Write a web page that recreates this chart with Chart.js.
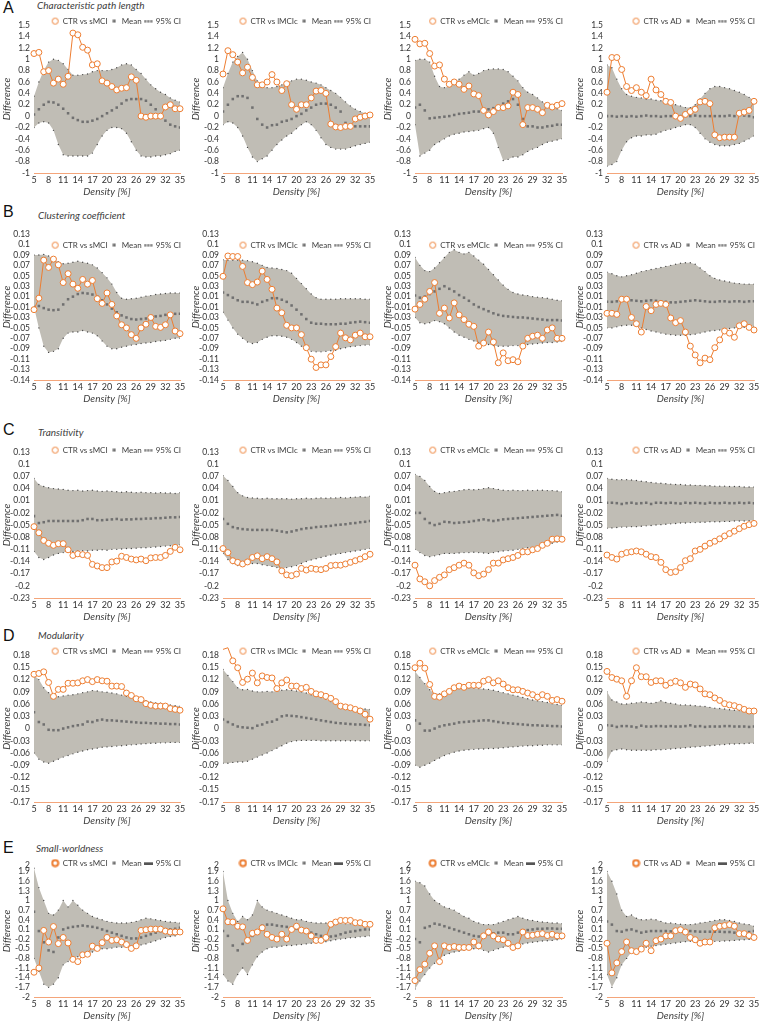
<!DOCTYPE html>
<html>
<head>
<meta charset="utf-8">
<script src="https://cdn.jsdelivr.net/npm/chart.js@4.4.1/dist/chart.umd.min.js"></script>
<style>
  body { margin: 0; background: #fff; }
  #page { position: relative; width: 760px; height: 1023px; overflow: hidden; background: #fff; }
  #page canvas { position: absolute; }
  .letter { position: absolute; font: 16px "Liberation Sans", Arial, sans-serif; line-height: 16px; color: #111; }
  .title { position: absolute; font: italic 10px Lato, sans-serif; line-height: 12px; color: #404040; white-space: nowrap; }
</style>
</head>
<body>
<div id="page"></div>
<script>
// density axis
const density = [5, 6, 7, 8, 9, 10, 11, 12, 13, 14, 15, 16, 17, 18, 19, 20, 21, 22, 23, 24, 25, 26, 27, 28, 29, 30, 31, 32, 33, 34, 35];
const densityTicks = [5, 8, 11, 14, 17, 20, 23, 26, 29, 32, 35];

// y ticks per row (values and the printed labels)
const cplTickValues = [-1, -0.8, -0.6, -0.4, -0.2, 0, 0.2, 0.4, 0.6, 0.8, 1, 1.2, 1.4, 1.6];
const cplTickLabels = ["-1", "-0.8", "-0.6", "-0.4", "-0.2", "0", "0.2", "0.4", "0.6", "0.8", "1", "1.2", "1.4", "1.5"];
const cluTickValues = [-0.15, -0.13, -0.11, -0.09, -0.07, -0.05, -0.03, -0.01, 0.01, 0.03, 0.05, 0.07, 0.09, 0.11, 0.13];
const cluTickLabels = ["-0.14", "-0.13", "-0.11", "-0.09", "-0.07", "-0.05", "-0.03", "-0.01", "0.01", "0.03", "0.05", "0.07", "0.09", "0.1", "0.13"];
const traTickValues = [-0.23, -0.2, -0.17, -0.14, -0.11, -0.08, -0.05, -0.02, 0.01, 0.04, 0.07, 0.1, 0.13];
const traTickLabels = ["-0.23", "-0.2", "-0.17", "-0.14", "-0.11", "-0.08", "-0.05", "-0.02", "0.01", "0.04", "0.07", "0.1", "0.13"];
const modTickValues = [-0.18, -0.15, -0.12, -0.09, -0.06, -0.03, 0, 0.03, 0.06, 0.09, 0.12, 0.15, 0.18];
const modTickLabels = ["-0.17", "-0.15", "-0.12", "-0.09", "-0.06", "-0.03", "0", "0.03", "0.06", "0.09", "0.12", "0.15", "0.18"];
const swTickValues = [-2, -1.7, -1.4, -1.1, -0.8, -0.5, -0.2, 0.1, 0.4, 0.7, 1, 1.3, 1.6, 1.9, 2.1];
const swTickLabels = ["-2", "-1.7", "-1.4", "-1.1", "-0.8", "-0.5", "-0.2", "0.1", "0.4", "0.7", "1", "1.3", "1.6", "1.9", "2"];

const groups = ["CTR vs sMCI", "CTR vs lMCIc", "CTR vs eMCIc", "CTR vs AD"];
const rowLetters = ["A", "B", "C", "D", "E"];
const rowTitles = ["Characteristic path length", "Clustering coefficient", "Transitivity", "Modularity", "Small-worldness"];

// A - characteristic path length
const cplSmciDiff = [1.1, 1.12, 0.78, 0.8, 0.58, 0.65, 0.56, 0.7, 1.46, 1.43, 1.21, 1.16, 0.9, 0.92, 0.62, 0.58, 0.52, 0.46, 0.49, 0.5, 0.69, 0.63, 0, -0.02, 0, 0, 0, 0.16, 0.2, 0.13, 0.13];
const cplSmciMean = [0.03, 0.12, 0.2, 0.25, 0.24, 0.2, 0.13, 0.05, -0.03, -0.07, -0.1, -0.1, -0.08, -0.05, 0, 0.05, 0.1, 0.15, 0.22, 0.28, 0.3, 0.3, 0.3, 0.27, 0.2, 0.12, 0.03, -0.08, -0.15, -0.18, -0.2];
const cplSmciHi = [0.35, 0.6, 0.8, 0.95, 1, 0.98, 0.92, 0.82, 0.72, 0.72, 0.73, 0.74, 0.78, 0.8, 0.8, 0.8, 0.82, 0.85, 0.9, 0.92, 0.9, 0.82, 0.75, 0.65, 0.55, 0.48, 0.42, 0.38, 0.32, 0.28, 0.25];
const cplSmciLo = [-0.2, -0.12, -0.1, -0.12, -0.25, -0.5, -0.68, -0.7, -0.7, -0.7, -0.7, -0.7, -0.65, -0.5, -0.35, -0.25, -0.2, -0.2, -0.22, -0.3, -0.45, -0.6, -0.7, -0.72, -0.72, -0.7, -0.7, -0.68, -0.66, -0.62, -0.6];

const cplLmcicDiff = [0.74, 1.15, 1.08, 0.95, 0.76, 0.86, 0.68, 0.55, 0.55, 0.6, 0.73, 0.6, 0.45, 0.57, 0.2, 0.12, 0.2, 0.2, 0.32, 0.44, 0.45, 0.4, -0.14, -0.19, -0.2, -0.18, -0.18, -0.05, -0.02, 0, 0.02];
const cplLmcicMean = [0.08, 0.2, 0.3, 0.35, 0.35, 0.32, 0.15, -0.05, -0.15, -0.2, -0.16, -0.15, -0.1, -0.08, -0.05, 0, 0.04, 0.1, 0.15, 0.2, 0.22, 0.22, 0.2, 0.15, 0.08, -0.12, -0.15, -0.18, -0.18, -0.18, -0.18];
const cplLmcicHi = [0.5, 0.75, 0.95, 1.05, 1.12, 1, 0.8, 0.62, 0.52, 0.5, 0.5, 0.52, 0.55, 0.6, 0.62, 0.65, 0.65, 0.63, 0.6, 0.58, 0.55, 0.5, 0.45, 0.4, 0.33, 0.25, 0.18, 0.12, 0.08, 0.05, 0.03];
const cplLmcicLo = [-0.15, -0.1, -0.12, -0.2, -0.35, -0.55, -0.72, -0.8, -0.75, -0.7, -0.6, -0.5, -0.42, -0.35, -0.3, -0.22, -0.15, -0.1, -0.15, -0.25, -0.38, -0.5, -0.55, -0.58, -0.58, -0.58, -0.55, -0.52, -0.5, -0.48, -0.46];

const cplEmcicDiff = [1.35, 1.27, 1.28, 1.1, 0.88, 0.9, 0.65, 0.56, 0.6, 0.56, 0.47, 0.53, 0.39, 0.36, 0.1, 0.02, 0.08, 0.15, 0.15, 0.18, 0.42, 0.38, -0.15, 0.15, 0.15, 0.12, 0.06, 0.19, 0.16, 0.19, 0.22];
const cplEmcicMean = [0.15, 0.2, 0.1, -0.04, -0.03, -0.02, -0.01, 0, 0.02, 0.04, 0.05, 0.06, 0.08, 0.08, 0.1, 0.12, 0.14, 0.18, 0.22, 0.26, 0.3, 0.2, -0.05, -0.18, -0.18, -0.2, -0.2, -0.18, -0.17, -0.15, -0.15];
const cplEmcicHi = [0.98, 1, 1, 0.95, 0.7, 0.52, 0.5, 0.52, 0.58, 0.65, 0.72, 0.78, 0.72, 0.75, 0.8, 0.82, 0.83, 0.83, 0.82, 0.78, 0.7, 0.62, 0.5, 0.42, 0.38, 0.32, 0.25, 0.2, 0.16, 0.13, 0.1];
const cplEmcicLo = [-0.15, -0.7, -0.65, -0.6, -0.5, -0.45, -0.4, -0.35, -0.32, -0.3, -0.28, -0.27, -0.26, -0.25, -0.22, -0.2, -0.3, -0.55, -0.78, -0.76, -0.72, -0.72, -0.68, -0.62, -0.58, -0.55, -0.5, -0.46, -0.44, -0.42, -0.4];

const cplAdDiff = [0.42, 1.03, 1.03, 0.82, 0.52, 0.45, 0.5, 0.42, 0.36, 0.65, 0.46, 0.38, 0.26, 0.24, 0, -0.04, 0.03, 0.08, 0.12, 0.25, 0.26, 0.22, -0.33, -0.38, -0.37, -0.37, -0.37, 0.05, 0.07, 0.1, 0.26];
const cplAdMean = [0, 0, -0.01, 0, -0.01, 0, -0.01, 0, 0.01, 0, 0, -0.01, 0, 0, -0.01, 0, 0, 0, 0.01, 0, 0, 0, 0, 0, 0, 0.01, 0, 0.02, 0.01, 0, -0.02];
const cplAdHi = [0.9, 0.85, 0.65, 0.48, 0.38, 0.35, 0.33, 0.32, 0.3, 0.3, 0.28, 0.27, 0.25, 0.22, 0.2, 0.18, 0.15, 0.15, 0.2, 0.3, 0.4, 0.48, 0.52, 0.52, 0.5, 0.48, 0.45, 0.42, 0.38, 0.33, 0.28];
const cplAdLo = [-0.88, -0.85, -0.8, -0.6, -0.45, -0.38, -0.35, -0.35, -0.33, -0.33, -0.32, -0.28, -0.25, -0.23, -0.2, -0.18, -0.15, -0.15, -0.2, -0.3, -0.4, -0.46, -0.5, -0.52, -0.52, -0.52, -0.5, -0.48, -0.44, -0.4, -0.35];

// B - clustering coefficient
const cluSmciDiff = [-0.015, 0.007, 0.08, 0.066, 0.082, 0.071, 0.037, 0.054, 0.034, 0.026, 0.043, 0.034, 0.041, 0.006, -0.003, 0.017, -0.005, -0.027, -0.044, -0.05, -0.063, -0.07, -0.05, -0.043, -0.03, -0.047, -0.049, -0.044, -0.025, -0.056, -0.061];
const cluSmciMean = [-0.01, -0.008, -0.012, -0.015, -0.016, -0.015, -0.005, 0.005, 0.01, 0.015, 0.017, 0.016, 0.014, 0.01, 0.003, -0.005, -0.013, -0.02, -0.026, -0.03, -0.033, -0.034, -0.033, -0.032, -0.03, -0.028, -0.027, -0.025, -0.024, -0.023, -0.023];
const cluSmciHi = [0.09, 0.09, 0.091, 0.088, 0.082, 0.077, 0.073, 0.074, 0.076, 0.078, 0.076, 0.074, 0.071, 0.065, 0.056, 0.046, 0.034, 0.018, 0.007, 0.005, 0.006, 0.007, 0.009, 0.011, 0.012, 0.014, 0.015, 0.016, 0.017, 0.017, 0.017];
const cluSmciLo = [-0.01, -0.05, -0.085, -0.097, -0.095, -0.09, -0.07, -0.06, -0.058, -0.058, -0.055, -0.058, -0.06, -0.065, -0.075, -0.085, -0.09, -0.09, -0.087, -0.085, -0.083, -0.082, -0.08, -0.079, -0.078, -0.076, -0.075, -0.074, -0.072, -0.07, -0.07];

const cluLmcicDiff = [0.049, 0.088, 0.087, 0.087, 0.068, 0.037, 0.033, 0.038, 0.059, 0.043, 0.024, -0.012, -0.021, -0.045, -0.05, -0.05, -0.063, -0.088, -0.11, -0.126, -0.121, -0.121, -0.105, -0.086, -0.06, -0.069, -0.073, -0.064, -0.06, -0.067, -0.067];
const cluLmcicMean = [0.018, 0.013, 0.008, 0.003, 0, 0, -0.002, -0.005, 0, 0.003, 0.007, 0.007, 0.004, 0, -0.007, -0.015, -0.024, -0.033, -0.04, -0.042, -0.042, -0.043, -0.043, -0.043, -0.042, -0.042, -0.04, -0.039, -0.038, -0.039, -0.04];
const cluLmcicHi = [0.081, 0.08, 0.08, 0.08, 0.08, 0.079, 0.077, 0.074, 0.07, 0.066, 0.065, 0.064, 0.062, 0.06, 0.055, 0.045, 0.035, 0.025, 0.015, 0.008, 0.005, 0.005, 0.005, 0.005, 0.006, 0.006, 0.006, 0.006, 0.006, 0.005, 0.005];
const cluLmcicLo = [-0.02, -0.035, -0.05, -0.062, -0.07, -0.077, -0.08, -0.078, -0.072, -0.068, -0.065, -0.065, -0.066, -0.068, -0.072, -0.078, -0.085, -0.09, -0.095, -0.096, -0.096, -0.095, -0.094, -0.093, -0.09, -0.088, -0.086, -0.085, -0.084, -0.083, -0.083];

const cluEmcicDiff = [-0.014, -0.005, 0.005, 0.02, 0.037, -0.022, -0.012, -0.031, -0.002, -0.025, -0.034, -0.043, -0.047, -0.085, -0.079, -0.058, -0.077, -0.117, -0.098, -0.113, -0.111, -0.115, -0.085, -0.07, -0.066, -0.064, -0.07, -0.054, -0.05, -0.07, -0.07];
const cluEmcicMean = [0.012, 0.008, 0.01, 0.015, 0.02, 0.025, 0.03, 0.025, 0.02, 0.013, 0.008, 0.002, -0.005, -0.01, -0.014, -0.018, -0.022, -0.025, -0.027, -0.028, -0.029, -0.03, -0.03, -0.031, -0.032, -0.033, -0.034, -0.035, -0.035, -0.035, -0.036];
const cluEmcicHi = [0.085, 0.07, 0.06, 0.058, 0.065, 0.075, 0.085, 0.095, 0.1, 0.095, 0.092, 0.095, 0.088, 0.08, 0.072, 0.062, 0.052, 0.042, 0.032, 0.024, 0.018, 0.015, 0.013, 0.012, 0.01, 0.009, 0.008, 0.007, 0.005, 0.003, 0.002];
const cluEmcicLo = [-0.03, -0.04, -0.042, -0.04, -0.036, -0.038, -0.042, -0.05, -0.058, -0.064, -0.068, -0.072, -0.075, -0.078, -0.08, -0.082, -0.084, -0.085, -0.085, -0.085, -0.084, -0.084, -0.083, -0.082, -0.081, -0.08, -0.079, -0.078, -0.078, -0.077, -0.076];

const cluAdDiff = [-0.022, -0.022, -0.024, 0.005, 0.005, -0.03, -0.042, -0.058, -0.009, -0.017, -0.005, -0.003, -0.005, -0.031, -0.04, -0.036, -0.058, -0.085, -0.102, -0.117, -0.108, -0.111, -0.088, -0.073, -0.056, -0.06, -0.068, -0.046, -0.042, -0.049, -0.054];
const cluAdMean = [0, 0, 0.001, 0.002, 0.003, 0.003, 0.002, 0.001, 0.002, 0.003, 0.002, 0.001, 0, -0.001, -0.001, 0, 0.001, 0.002, 0.003, 0.002, 0.001, 0, 0, 0.001, 0.001, 0, 0.001, 0.001, 0, 0.001, 0.001];
const cluAdHi = [0.057, 0.054, 0.05, 0.048, 0.05, 0.052, 0.055, 0.058, 0.06, 0.062, 0.064, 0.066, 0.068, 0.07, 0.072, 0.074, 0.075, 0.075, 0.072, 0.065, 0.058, 0.05, 0.045, 0.042, 0.04, 0.038, 0.036, 0.035, 0.034, 0.034, 0.034];
const cluAdLo = [-0.05, -0.05, -0.048, -0.046, -0.045, -0.045, -0.047, -0.05, -0.053, -0.056, -0.058, -0.06, -0.062, -0.063, -0.064, -0.064, -0.064, -0.063, -0.062, -0.06, -0.058, -0.056, -0.055, -0.054, -0.052, -0.051, -0.05, -0.05, -0.049, -0.048, -0.047];

// C - transitivity
const traSmciDiff = [-0.054, -0.069, -0.088, -0.095, -0.1, -0.096, -0.096, -0.111, -0.125, -0.121, -0.123, -0.125, -0.147, -0.151, -0.155, -0.155, -0.141, -0.139, -0.127, -0.13, -0.134, -0.136, -0.134, -0.138, -0.131, -0.13, -0.13, -0.125, -0.115, -0.105, -0.111];
const traSmciMean = [-0.028, -0.045, -0.043, -0.04, -0.04, -0.04, -0.04, -0.04, -0.04, -0.04, -0.038, -0.035, -0.035, -0.038, -0.038, -0.037, -0.036, -0.035, -0.037, -0.036, -0.036, -0.035, -0.035, -0.034, -0.034, -0.033, -0.033, -0.032, -0.031, -0.031, -0.03];
const traSmciHi = [0.065, 0.05, 0.045, 0.042, 0.04, 0.039, 0.038, 0.036, 0.035, 0.036, 0.034, 0.035, 0.036, 0.034, 0.033, 0.034, 0.033, 0.032, 0.031, 0.032, 0.031, 0.03, 0.031, 0.03, 0.03, 0.029, 0.03, 0.029, 0.029, 0.028, 0.03];
const traSmciLo = [-0.115, -0.13, -0.135, -0.13, -0.124, -0.12, -0.118, -0.116, -0.115, -0.114, -0.113, -0.114, -0.112, -0.112, -0.111, -0.112, -0.11, -0.11, -0.109, -0.108, -0.108, -0.107, -0.106, -0.106, -0.105, -0.104, -0.103, -0.102, -0.101, -0.1, -0.099];

const traLmcicDiff = [-0.108, -0.118, -0.138, -0.142, -0.146, -0.141, -0.13, -0.126, -0.133, -0.128, -0.133, -0.141, -0.163, -0.173, -0.175, -0.171, -0.157, -0.161, -0.157, -0.159, -0.16, -0.157, -0.15, -0.149, -0.149, -0.146, -0.142, -0.138, -0.134, -0.128, -0.122];
const traLmcicMean = [-0.035, -0.047, -0.055, -0.058, -0.06, -0.061, -0.062, -0.062, -0.062, -0.062, -0.062, -0.064, -0.066, -0.068, -0.066, -0.063, -0.06, -0.058, -0.057, -0.055, -0.054, -0.053, -0.052, -0.05, -0.049, -0.048, -0.046, -0.045, -0.043, -0.042, -0.04];
const traLmcicHi = [0.072, 0.06, 0.045, 0.03, 0.022, 0.018, 0.017, 0.016, 0.015, 0.016, 0.015, 0.015, 0.015, 0.015, 0.014, 0.015, 0.015, 0.016, 0.015, 0.016, 0.017, 0.016, 0.017, 0.017, 0.018, 0.017, 0.018, 0.019, 0.02, 0.019, 0.021];
const traLmcicLo = [-0.12, -0.135, -0.145, -0.15, -0.15, -0.147, -0.145, -0.145, -0.148, -0.15, -0.152, -0.155, -0.157, -0.155, -0.153, -0.15, -0.145, -0.14, -0.136, -0.133, -0.13, -0.127, -0.124, -0.122, -0.12, -0.118, -0.116, -0.114, -0.112, -0.11, -0.108];

const traEmcicDiff = [-0.149, -0.183, -0.19, -0.2, -0.187, -0.179, -0.173, -0.16, -0.155, -0.149, -0.144, -0.149, -0.168, -0.175, -0.171, -0.16, -0.144, -0.144, -0.136, -0.133, -0.13, -0.125, -0.116, -0.116, -0.111, -0.108, -0.1, -0.095, -0.085, -0.084, -0.085];
const traEmcicMean = [-0.02, -0.02, -0.035, -0.045, -0.05, -0.047, -0.042, -0.043, -0.045, -0.044, -0.043, -0.042, -0.04, -0.038, -0.036, -0.038, -0.04, -0.038, -0.036, -0.035, -0.034, -0.033, -0.032, -0.031, -0.03, -0.029, -0.028, -0.027, -0.026, -0.025, -0.027];
const traEmcicHi = [0.075, 0.07, 0.06, 0.045, 0.033, 0.028, 0.03, 0.032, 0.033, 0.035, 0.037, 0.038, 0.037, 0.038, 0.04, 0.042, 0.04, 0.038, 0.036, 0.035, 0.036, 0.035, 0.035, 0.036, 0.035, 0.036, 0.036, 0.035, 0.035, 0.034, 0.032];
const traEmcicLo = [-0.11, -0.118, -0.125, -0.128, -0.126, -0.123, -0.12, -0.12, -0.12, -0.119, -0.118, -0.118, -0.117, -0.118, -0.119, -0.12, -0.118, -0.116, -0.114, -0.113, -0.112, -0.11, -0.108, -0.106, -0.105, -0.103, -0.1, -0.098, -0.095, -0.092, -0.09];

const traAdDiff = [-0.124, -0.13, -0.134, -0.122, -0.118, -0.116, -0.114, -0.116, -0.122, -0.128, -0.13, -0.142, -0.16, -0.167, -0.165, -0.155, -0.138, -0.133, -0.114, -0.11, -0.102, -0.095, -0.09, -0.084, -0.077, -0.071, -0.065, -0.059, -0.053, -0.049, -0.046];
const traAdMean = [0.005, 0.005, 0.004, 0.002, 0.004, 0.005, 0.003, 0.004, 0.005, 0.002, 0.005, 0.005, 0.004, 0.005, 0.004, 0.003, 0.005, 0.004, 0.005, 0.004, 0.003, 0.005, 0.004, 0.004, 0.005, 0.004, 0.004, 0.005, 0.004, 0.005, 0.004];
const traAdHi = [0.065, 0.063, 0.062, 0.062, 0.062, 0.061, 0.06, 0.058, 0.057, 0.055, 0.054, 0.053, 0.052, 0.051, 0.05, 0.05, 0.049, 0.049, 0.048, 0.048, 0.047, 0.047, 0.046, 0.046, 0.046, 0.045, 0.045, 0.045, 0.044, 0.044, 0.044];
const traAdLo = [-0.058, -0.057, -0.056, -0.055, -0.055, -0.054, -0.054, -0.053, -0.052, -0.051, -0.05, -0.049, -0.048, -0.047, -0.046, -0.045, -0.045, -0.044, -0.044, -0.043, -0.043, -0.042, -0.042, -0.042, -0.041, -0.041, -0.04, -0.04, -0.04, -0.039, -0.039];

// D - modularity
const modSmciDiff = [0.133, 0.135, 0.139, 0.113, 0.079, 0.096, 0.096, 0.111, 0.111, 0.112, 0.117, 0.12, 0.115, 0.12, 0.117, 0.116, 0.104, 0.104, 0.103, 0.087, 0.081, 0.073, 0.071, 0.061, 0.057, 0.055, 0.055, 0.055, 0.049, 0.047, 0.045];
const modSmciMean = [0.04, 0.016, 0.01, -0.003, -0.004, -0.004, 0, 0.003, 0.006, 0.008, 0.01, 0.017, 0.016, 0.02, 0.022, 0.02, 0.02, 0.019, 0.018, 0.017, 0.016, 0.015, 0.014, 0.014, 0.013, 0.013, 0.012, 0.012, 0.011, 0.011, 0.01];
const modSmciHi = [0.13, 0.12, 0.1, 0.088, 0.08, 0.078, 0.08, 0.082, 0.083, 0.085, 0.088, 0.09, 0.093, 0.092, 0.09, 0.089, 0.087, 0.085, 0.082, 0.079, 0.077, 0.074, 0.071, 0.068, 0.065, 0.063, 0.062, 0.06, 0.058, 0.056, 0.055];
const modSmciLo = [-0.06, -0.075, -0.082, -0.085, -0.08, -0.075, -0.07, -0.066, -0.062, -0.058, -0.055, -0.052, -0.05, -0.048, -0.046, -0.045, -0.044, -0.043, -0.042, -0.041, -0.04, -0.039, -0.038, -0.037, -0.036, -0.036, -0.035, -0.035, -0.034, -0.034, -0.034];

const modLmcicDiff = [0.194, 0.198, 0.166, 0.149, 0.113, 0.121, 0.136, 0.112, 0.129, 0.125, 0.124, 0.098, 0.112, 0.119, 0.104, 0.104, 0.098, 0.101, 0.091, 0.085, 0.083, 0.079, 0.074, 0.066, 0.055, 0.053, 0.051, 0.047, 0.043, 0.035, 0.023];
const modLmcicMean = [0.022, 0.016, 0.01, 0.005, 0.003, 0.002, 0.001, 0.007, 0.01, 0.015, 0.017, 0.022, 0.03, 0.032, 0.031, 0.03, 0.028, 0.026, 0.024, 0.022, 0.02, 0.018, 0.016, 0.014, 0.013, 0.012, 0.011, 0.01, 0.01, 0.009, 0.008];
const modLmcicHi = [0.145, 0.13, 0.115, 0.1, 0.095, 0.096, 0.092, 0.09, 0.09, 0.091, 0.09, 0.092, 0.094, 0.095, 0.094, 0.092, 0.09, 0.087, 0.083, 0.08, 0.076, 0.072, 0.066, 0.06, 0.056, 0.053, 0.051, 0.05, 0.049, 0.048, 0.047];
const modLmcicLo = [-0.085, -0.085, -0.083, -0.082, -0.082, -0.08, -0.075, -0.07, -0.065, -0.06, -0.054, -0.048, -0.042, -0.036, -0.032, -0.03, -0.029, -0.029, -0.029, -0.029, -0.03, -0.03, -0.03, -0.03, -0.03, -0.03, -0.03, -0.03, -0.03, -0.03, -0.03];

const modEmcicDiff = [0.149, 0.16, 0.148, 0.108, 0.079, 0.077, 0.085, 0.091, 0.1, 0.104, 0.101, 0.106, 0.106, 0.106, 0.116, 0.12, 0.112, 0.117, 0.109, 0.1, 0.095, 0.095, 0.091, 0.087, 0.083, 0.077, 0.083, 0.079, 0.069, 0.071, 0.067];
const modEmcicMean = [0.02, 0.012, -0.005, -0.005, 0, 0.005, 0.008, 0.01, 0.012, 0.015, 0.016, 0.017, 0.018, 0.019, 0.02, 0.02, 0.018, 0.016, 0.014, 0.013, 0.012, 0.011, 0.01, 0.009, 0.008, 0.008, 0.007, 0.007, 0.006, 0.006, 0.005];
const modEmcicHi = [0.14, 0.125, 0.11, 0.095, 0.085, 0.085, 0.088, 0.092, 0.096, 0.099, 0.1, 0.1, 0.099, 0.098, 0.097, 0.096, 0.094, 0.091, 0.088, 0.085, 0.082, 0.079, 0.076, 0.073, 0.07, 0.068, 0.066, 0.064, 0.061, 0.059, 0.057];
const modEmcicLo = [-0.09, -0.095, -0.09, -0.085, -0.078, -0.072, -0.066, -0.062, -0.058, -0.055, -0.053, -0.052, -0.051, -0.05, -0.05, -0.049, -0.049, -0.048, -0.047, -0.046, -0.045, -0.044, -0.043, -0.042, -0.042, -0.041, -0.041, -0.04, -0.04, -0.04, -0.04];

const modAdDiff = [0.14, 0.125, 0.121, 0.117, 0.079, 0.117, 0.149, 0.127, 0.127, 0.113, 0.117, 0.117, 0.106, 0.112, 0.116, 0.112, 0.101, 0.109, 0.107, 0.097, 0.085, 0.083, 0.075, 0.069, 0.061, 0.058, 0.056, 0.052, 0.047, 0.043, 0.043];
const modAdMean = [0.008, 0.007, 0.004, 0.006, 0.006, 0.005, 0.003, 0.007, 0.005, 0.005, 0.006, 0.006, 0.005, 0.006, 0.005, 0.005, 0.006, 0.008, 0.005, 0.006, 0.004, 0.005, 0.005, 0.005, 0.006, 0.006, 0.005, 0.005, 0.005, 0.004, 0.005];
const modAdHi = [0.09, 0.07, 0.065, 0.06, 0.06, 0.062, 0.063, 0.065, 0.064, 0.062, 0.064, 0.068, 0.064, 0.062, 0.06, 0.058, 0.058, 0.057, 0.056, 0.055, 0.054, 0.052, 0.05, 0.049, 0.048, 0.046, 0.045, 0.044, 0.043, 0.042, 0.041];
const modAdLo = [-0.08, -0.055, -0.052, -0.05, -0.052, -0.053, -0.053, -0.053, -0.053, -0.053, -0.052, -0.052, -0.051, -0.05, -0.049, -0.048, -0.047, -0.046, -0.045, -0.044, -0.043, -0.042, -0.041, -0.04, -0.039, -0.038, -0.038, -0.037, -0.037, -0.036, -0.036];

// E - small-worldness
const swSmciDiff = [-1.23, -1.1, 0.07, -0.29, 0.19, -0.34, -0.15, -0.32, -0.83, -0.9, -0.69, -0.67, -0.42, -0.49, -0.31, -0.15, -0.24, -0.22, -0.29, -0.37, -0.49, -0.41, 0.07, 0.09, 0.11, 0.11, 0.11, 0.05, 0.02, 0.02, 0.02];
const swSmciMean = [0.65, 0.05, -0.3, -0.55, -0.6, -0.15, 0.1, 0.15, 0.18, 0.2, 0.22, 0.2, 0.18, 0.15, 0.1, 0.05, 0, -0.05, -0.1, -0.15, -0.18, -0.18, -0.15, -0.1, -0.05, 0, 0.05, 0.08, 0.1, 0.12, 0.15];
const swSmciHi = [2, 1.4, 1, 0.6, 0.55, 0.7, 1, 0.8, 1, 0.85, 0.7, 0.6, 0.5, 0.45, 0.4, 0.35, 0.32, 0.3, 0.3, 0.3, 0.32, 0.35, 0.4, 0.45, 0.43, 0.4, 0.38, 0.35, 0.33, 0.32, 0.3];
const swSmciLo = [-0.8, -1.2, -1.6, -1.7, -1.6, -1.4, -1, -0.9, -0.8, -0.75, -0.7, -0.65, -0.6, -0.55, -0.5, -0.5, -0.48, -0.45, -0.45, -0.45, -0.42, -0.4, -0.38, -0.35, -0.3, -0.25, -0.2, -0.15, -0.12, -0.1, -0.05];

const swLmcicDiff = [0.74, 0.34, 0.33, 0.2, 0.18, -0.24, -0.02, 0.02, 0.15, -0.05, -0.15, -0.2, -0.05, -0.2, 0.1, 0.2, 0.08, 0.05, -0.1, -0.24, -0.24, -0.15, 0.26, 0.33, 0.38, 0.38, 0.38, 0.31, 0.31, 0.26, 0.26];
const swLmcicMean = [0.05, -0.1, -0.4, -0.55, -0.35, -0.3, -0.1, 0, 0.22, 0.25, 0.25, 0.22, 0.2, 0.18, 0.15, 0.12, 0.1, 0.05, 0, -0.05, -0.1, -0.12, -0.12, -0.1, -0.05, 0, 0.03, 0.05, 0.08, 0.1, 0.1];
const swLmcicHi = [1.9, 1, 0.6, 0.35, 0.5, 0.4, 0.55, 1, 0.8, 0.7, 0.65, 0.6, 0.55, 0.5, 0.45, 0.4, 0.4, 0.35, 0.32, 0.3, 0.3, 0.3, 0.3, 0.3, 0.3, 0.28, 0.28, 0.27, 0.27, 0.26, 0.25];
const swLmcicLo = [-1.3, -1.5, -1.6, -1.3, -1.1, -1.3, -1, -0.75, -0.6, -0.5, -0.45, -0.45, -0.42, -0.4, -0.4, -0.38, -0.37, -0.35, -0.33, -0.32, -0.3, -0.28, -0.25, -0.22, -0.2, -0.18, -0.16, -0.15, -0.13, -0.12, -0.1];

const swEmcicDiff = [-1.49, -1.15, -0.98, -0.64, -0.41, -0.9, -0.41, -0.46, -0.43, -0.46, -0.46, -0.46, -0.29, -0.41, -0.1, 0.02, -0.1, -0.2, -0.22, -0.33, -0.46, -0.41, 0.02, -0.09, -0.08, -0.05, -0.03, -0.09, -0.05, -0.1, -0.1];
const swEmcicMean = [-0.2, -0.3, 0.15, 0.2, 0.28, 0.25, 0.2, 0.15, 0.1, 0.05, 0, -0.05, -0.1, -0.12, -0.1, -0.05, -0.02, 0, 0, -0.05, -0.05, 0, 0.05, 0.08, 0.1, 0.12, 0.12, 0.13, 0.13, 0.12, 0.12];
const swEmcicHi = [1.6, 1.55, 1.45, 1.2, 1, 0.9, 0.8, 0.75, 0.7, 0.6, 0.5, 0.45, 0.35, 0.3, 0.25, 0.25, 0.25, 0.3, 0.35, 0.4, 0.45, 0.5, 0.45, 0.4, 0.38, 0.35, 0.33, 0.32, 0.3, 0.3, 0.28];
const swEmcicLo = [-1.75, -1.5, -1.3, -1.1, -0.95, -0.8, -0.7, -0.65, -0.6, -0.58, -0.55, -0.52, -0.5, -0.5, -0.55, -0.6, -0.55, -0.5, -0.45, -0.42, -0.4, -0.38, -0.35, -0.32, -0.3, -0.28, -0.26, -0.25, -0.24, -0.22, -0.2];

const swAdDiff = [-0.33, -1.25, -0.94, -0.59, -0.29, -0.56, -0.59, -0.51, -0.33, -0.56, -0.25, -0.2, -0.1, -0.1, 0.06, 0.09, 0.02, -0.15, -0.22, -0.33, -0.29, -0.29, 0.15, 0.2, 0.22, 0.25, 0.2, -0.03, -0.03, -0.09, -0.15];
const swAdMean = [0.35, 0.25, 0.05, 0.03, 0.08, 0.1, 0.05, 0, 0.03, 0.05, 0.05, 0.05, 0.05, 0.04, 0.05, 0.05, 0.05, 0.05, 0.04, 0.03, 0.03, 0.03, 0.03, 0.03, 0.02, 0.02, 0, 0, 0.01, 0.02, 0.05];
const swAdHi = [1.9, 1.6, 1.2, 0.7, 0.5, 0.55, 0.45, 0.4, 0.4, 0.42, 0.4, 0.35, 0.3, 0.3, 0.28, 0.26, 0.25, 0.25, 0.27, 0.3, 0.32, 0.35, 0.38, 0.4, 0.4, 0.38, 0.35, 0.3, 0.27, 0.25, 0.2];
const swAdLo = [-1.3, -1.7, -1.4, -1, -0.8, -0.6, -0.55, -0.5, -0.45, -0.42, -0.4, -0.38, -0.36, -0.34, -0.32, -0.3, -0.28, -0.27, -0.26, -0.25, -0.25, -0.26, -0.27, -0.27, -0.26, -0.25, -0.24, -0.23, -0.22, -0.21, -0.2];

const rows = [
  { ticks: cplTickValues, labels: cplTickLabels, series: [
    [cplSmciDiff, cplSmciMean, cplSmciHi, cplSmciLo], [cplLmcicDiff, cplLmcicMean, cplLmcicHi, cplLmcicLo],
    [cplEmcicDiff, cplEmcicMean, cplEmcicHi, cplEmcicLo], [cplAdDiff, cplAdMean, cplAdHi, cplAdLo]] },
  { ticks: cluTickValues, labels: cluTickLabels, series: [
    [cluSmciDiff, cluSmciMean, cluSmciHi, cluSmciLo], [cluLmcicDiff, cluLmcicMean, cluLmcicHi, cluLmcicLo],
    [cluEmcicDiff, cluEmcicMean, cluEmcicHi, cluEmcicLo], [cluAdDiff, cluAdMean, cluAdHi, cluAdLo]] },
  { ticks: traTickValues, labels: traTickLabels, series: [
    [traSmciDiff, traSmciMean, traSmciHi, traSmciLo], [traLmcicDiff, traLmcicMean, traLmcicHi, traLmcicLo],
    [traEmcicDiff, traEmcicMean, traEmcicHi, traEmcicLo], [traAdDiff, traAdMean, traAdHi, traAdLo]] },
  { ticks: modTickValues, labels: modTickLabels, series: [
    [modSmciDiff, modSmciMean, modSmciHi, modSmciLo], [modLmcicDiff, modLmcicMean, modLmcicHi, modLmcicLo],
    [modEmcicDiff, modEmcicMean, modEmcicHi, modEmcicLo], [modAdDiff, modAdMean, modAdHi, modAdLo]] },
  { ticks: swTickValues, labels: swTickLabels, series: [
    [swSmciDiff, swSmciMean, swSmciHi, swSmciLo], [swLmcicDiff, swLmcicMean, swLmcicHi, swLmcicLo],
    [swEmcicDiff, swEmcicMean, swEmcicHi, swEmcicLo], [swAdDiff, swAdMean, swAdHi, swAdLo]] }
];

// page layout (plot-area edges, px)
const colLeft = [34, 223, 415, 607];
const colRight = [180, 370, 562, 754];
const rowTop = [24, 233, 451, 654, 864];
const rowBottom = [173, 380, 598, 802, 997];
const legendDy = [-4, 11, -2, -4, -2];
const letterY = [8, 212, 430, 636, 848];
const titleY = [5, 215, 432, 635, 848];
const titleX = [37, 38, 38, 38, 36];

const ORANGE = "#ED7D31";
const AXIS = "#F4A57A";
const BAND = "rgb(192,189,181)";
const MEAN = "#707070";
const DOT = "#4a4a4a";
const TEXT = "#404040";
const Y_W = 34, X_H = 25, PAD_T = 8, PAD_R = 8;

function icon(w, h, draw) {
  const c = document.createElement("canvas");
  c.width = w; c.height = h;
  draw(c.getContext("2d"));
  return c;
}
const circleIcon = lw => icon(9, 9, g => {
  g.beginPath(); g.arc(4.5, 4.5, 3, 0, Math.PI * 2);
  g.fillStyle = "#fff"; g.fill();
  g.lineWidth = lw; g.strokeStyle = ORANGE; g.stroke();
});
const meanIcon = icon(4, 4, g => { g.fillStyle = MEAN; g.fillRect(0.5, 0.5, 3, 3); });
const ciDots = icon(9, 3, g => { g.fillStyle = "#555"; for (let i = 0; i < 3; i++) g.fillRect(i * 3 + 0.5, 0.5, 2, 2); });
const ciBar = icon(9, 3, g => { g.fillStyle = "#555"; g.fillRect(0, 0.5, 9, 2.5); });

const legendSpot = {
  id: "legendSpot",
  beforeLayout(chart) {
    const lg = chart.legend;
    if (lg && !lg._patched) {
      const fit = lg.fit;
      lg.fit = function () { fit.call(this); this.height = 0; };
      lg._patched = true;
    }
  },
  afterLayout(chart, args, opts) {
    const lg = chart.legend;
    const top = chart.chartArea.top + opts.dy - 7;
    lg.top = top; lg.bottom = top + 14;
    lg.left += opts.dx; lg.right += opts.dx;
  }
};

const page = document.getElementById("page");

rowLetters.forEach((L, r) => {
  const d = document.createElement("div");
  d.className = "letter"; d.textContent = L;
  d.style.left = "3px"; d.style.top = (letterY[r] - 8) + "px";
  page.appendChild(d);
  const t = document.createElement("div");
  t.className = "title"; t.textContent = rowTitles[r];
  t.style.left = titleX[r] + "px"; t.style.top = (titleY[r] - 6) + "px";
  page.appendChild(t);
});

rows.forEach((row, r) => {
  row.series.forEach((s, c) => {
    const [diff, mean, hi, lo] = s;
    const cv = document.createElement("canvas");
    const w = colRight[c] - colLeft[c] + Y_W + PAD_R;
    const h = rowBottom[r] - rowTop[r] + PAD_T + X_H;
    cv.width = w; cv.height = h;
    cv.style.left = (colLeft[c] - Y_W) + "px";
    cv.style.top = (rowTop[r] - PAD_T) + "px";
    cv.style.width = w + "px"; cv.style.height = h + "px";
    page.appendChild(cv);

    const pts = arr => density.map((x, i) => ({ x: x, y: arr[i] }));
    const isE = r === 4;

    new Chart(cv, {
      type: "line",
      data: {
        datasets: [
          { label: groups[c], data: pts(diff), borderColor: ORANGE, borderWidth: 1, tension: 0, fill: false,
            pointRadius: 3, pointBackgroundColor: "#fff", pointBorderColor: ORANGE, pointBorderWidth: 1, clip: false },
          { label: "Mean", data: pts(mean), showLine: false, fill: false, pointStyle: "rect",
            pointRadius: 1.8, pointBackgroundColor: MEAN, pointBorderColor: MEAN, pointBorderWidth: 0 },
          { label: "95% CI", data: pts(hi), borderColor: "rgba(0,0,0,0)", borderWidth: 1, backgroundColor: BAND,
            fill: "+1", tension: 0, pointRadius: 0.7, pointBackgroundColor: DOT, pointBorderWidth: 0 },
          { label: "lo", data: pts(lo), borderColor: "rgba(0,0,0,0)", borderWidth: 1, fill: false, tension: 0,
            pointRadius: 0.7, pointBackgroundColor: DOT, pointBorderWidth: 0 }
        ]
      },
      options: {
        responsive: false,
        animation: false,
        devicePixelRatio: 1,
        layout: { padding: { top: PAD_T, right: PAD_R, left: 0, bottom: 0 } },
        plugins: {
          filler: { drawTime: "beforeDatasetsDraw" },
          tooltip: { enabled: false },
          legendSpot: { dy: legendDy[r], dx: 4 },
          legend: {
            position: "top", align: "end",
            labels: {
              usePointStyle: true, boxWidth: 7, boxHeight: 7, padding: 3,
              font: { family: "Lato", size: 8 }, color: TEXT,
              generateLabels: () => [
                { text: groups[c], pointStyle: circleIcon(isE ? 2 : 1), fillStyle: "#fff", strokeStyle: ORANGE, lineWidth: 0, fontColor: TEXT, datasetIndex: 0 },
                { text: "Mean", pointStyle: meanIcon, fillStyle: MEAN, strokeStyle: MEAN, lineWidth: 0, fontColor: TEXT, datasetIndex: 1 },
                { text: "95% CI", pointStyle: isE ? ciBar : ciDots, fillStyle: DOT, strokeStyle: DOT, lineWidth: 0, fontColor: TEXT, datasetIndex: 2 }
              ]
            }
          }
        },
        scales: {
          x: {
            type: "linear", min: 5, max: 35,
            afterBuildTicks: ax => { ax.ticks = densityTicks.map(v => ({ value: v })); },
            afterFit: ax => { ax.height = X_H; },
            grid: { display: false, drawTicks: false },
            border: { display: true, color: AXIS, width: 1 },
            ticks: { autoSkip: false, maxRotation: 0, padding: 2, color: "#333", font: { family: "Lato", size: 9 } },
            title: { display: true, text: "Density [%]", color: TEXT, font: { family: "Lato", size: 10, style: "italic" }, padding: { top: 0, bottom: 0 } }
          },
          y: {
            min: row.ticks[0], max: row.ticks[row.ticks.length - 1],
            afterBuildTicks: ax => { ax.ticks = row.ticks.map(v => ({ value: v })); },
            afterFit: ax => { ax.width = Y_W; },
            grid: { display: false, drawTicks: false },
            border: { display: false },
            ticks: { autoSkip: false, padding: 4, color: "#333", font: { family: "Lato", size: 8.5 },
                     callback: (v, i) => row.labels[i] },
            title: { display: true, text: "Difference", color: TEXT, font: { family: "Lato", size: 10, style: "italic" }, padding: { top: 1, bottom: 0 } }
          }
        }
      },
      plugins: [legendSpot]
    });
  });
});
</script>
</body>
</html>
